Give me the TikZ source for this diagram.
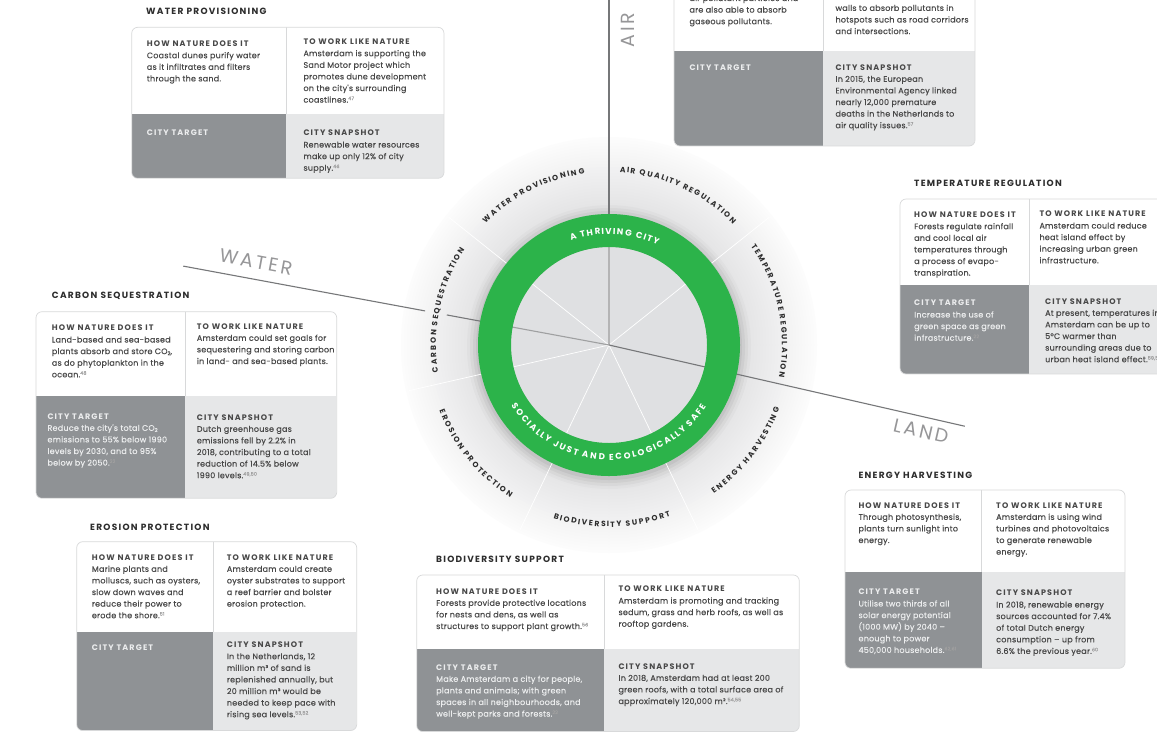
\documentclass[tikz,border=0pt]{standalone}
\usepackage{fontspec}
\setmainfont{Poppins}
\newfontfamily\bodyfont[LetterSpace=3, FakeBold=0.35]{Poppins}
\newfontfamily\capsfont[LetterSpace=14]{Poppins}
\usetikzlibrary{decorations.text}

\definecolor{thrivegreen}{RGB}{44,179,74}
\definecolor{targetgray}{RGB}{143,146,149}
\definecolor{snapgray}{RGB}{230,231,232}
\definecolor{cardedge}{RGB}{216,217,218}
\definecolor{titleink}{RGB}{45,45,45}
\definecolor{bodyink}{RGB}{72,72,72}
\definecolor{targetink}{RGB}{236,237,238}
\definecolor{noteink}{RGB}{160,160,160}
\definecolor{realmink}{RGB}{150,150,152}
\definecolor{diskgray}{RGB}{223,224,226}
\definecolor{halonear}{RGB}{226,226,227}
\definecolor{halofar}{RGB}{252,252,252}
\definecolor{axisgray}{RGB}{118,119,121}

\newcommand\hd[1]{{\capsfont\bfseries #1}}
\newcommand\fn[1]{\raisebox{2.6pt}{\fontsize{4.8}{4}\selectfont\color{noteink}#1}}
\newcommand\cotwo{CO\raisebox{-1pt}{\fontsize{5}{4}\selectfont 2}}

% card: left, top, divider, split, right, bottom (page pixels, y downwards)
\newcommand\cardframe[6]{%
  \begin{scope}
    \clip[rounded corners=6pt] (#1,{-(#2)}) rectangle (#5,{-(#6)});
    \fill[white] (#1,{-(#2)}) rectangle (#5,{-(#4)});
    \fill[targetgray] (#1,{-(#4)}) rectangle (#3,{-(#6)});
    \fill[snapgray] (#3,{-(#4)}) rectangle (#5,{-(#6)});
    \draw[cardedge, line width=0.8pt] (#3,{-(#2)}) -- (#3,{-(#4)});
  \end{scope}
  \draw[cardedge, line width=0.7pt, rounded corners=6pt] (#1,{-(#2)}) rectangle (#5,{-(#6)});
}

% label on an arc round the hub: text, start angle, end angle, radius
\newcommand\servicearc[4]{%
  \path[service, decoration={text effects along path, text={#1},
    text effects/.cd, text along path, fit text to path}]
    (hub) ++(#2:#4) arc[start angle=#2, end angle=#3, radius=#4];
}

\begin{document}
\begin{tikzpicture}[x=1pt,y=1pt]
  \tikzstyle{cell} = [anchor=north west, inner sep=0pt, align=left, text=bodyink, font=\bodyfont\fontsize{8}{11.6}\selectfont]
  \tikzstyle{darkcell} = [cell, text=targetink]
  \tikzstyle{cardtitle} = [anchor=north west, inner sep=0pt, text=titleink, font=\capsfont\bfseries\fontsize{9}{10}\selectfont]
  \tikzstyle{realm} = [inner sep=0pt, text=realmink, font=\capsfont\fontsize{19}{20}\selectfont]
  \tikzstyle{spoke} = [white, line width=0.7pt]
  \tikzstyle{axis} = [axisgray, line width=1.1pt]
  \tikzstyle{service} = [decorate, font=\bfseries\fontsize{7.6}{9}\selectfont, text=titleink]
  \tikzstyle{ringword} = [decorate, font=\bfseries\fontsize{8.6}{9}\selectfont, text=white]

  \useasboundingbox (0,0) rectangle (1157,-732);
  \fill[white] (0,0) rectangle (1157,-732);

  \coordinate (hub) at (609,-345);
  \coordinate (airend) at (609,0);
  \path (hub) +(169.5:433) coordinate (waterend)
              +(169.5:187) coordinate (watergapout)
              +(169.5:165) coordinate (watergapin)
              +(169.5:98) coordinate (waterrim)
              +(-12.86:365) coordinate (landend)
              +(-12.86:98) coordinate (landrim)
              +(90:98) coordinate (airrim);

  % disc, spokes and realms
  \foreach \k in {0,...,24}{
    \pgfmathtruncatemacro\p{4*\k}
    \fill[halonear!\p!halofar] (hub) circle[radius={208-3*\k}];
  }
  \foreach \r/\o in {142/0.02,139/0.03,136/0.04,133/0.05}
    \fill[black, opacity=\o] (hub) ++(0,-2) circle[radius=\r];
  \fill[diskgray] (hub) circle[radius=98];
  \foreach \a in {38.57,-64.29,-115.71,-167.14,141.43}
    \draw[spoke] (hub) -- +(\a:205);

  \draw[axis] (airend) -- (airrim);
  \draw[axis, axisgray!55] (airrim) -- (hub);
  \draw[axis] (waterend) -- (watergapout);
  \draw[axis] (watergapin) -- (waterrim);
  \draw[axis, axisgray!70] (waterrim) -- (hub);
  \draw[axis] (hub) -- (landend);

  \fill[thrivegreen, even odd rule] (hub) circle[radius=131] (hub) circle[radius=98];

  \path[ringword, decoration={text effects along path, text={A THRIVING CITY},
    text effects/.cd, text along path, fit text to path}]
    (hub) ++(110:111) arc[start angle=110, end angle=64, radius=111];
  \path[ringword, decoration={text effects along path, text={SOCIALLY JUST AND ECOLOGICALLY SAFE},
    text effects/.cd, text along path, fit text to path}]
    (hub) ++(-148.2:115) arc[start angle=-148.2, end angle=-32.4, radius=115];

  \servicearc{WATER PROVISIONING}{135.5}{98}{173}
  \servicearc{AIR QUALITY REGULATION}{86.4}{44.2}{173}
  \servicearc{TEMPERATURE REGULATION}{34.9}{-10.8}{173}
  \servicearc{CARBON SEQUESTRATION}{189.1}{146.5}{173}
  \servicearc{ENERGY HARVESTING}{-54.8}{-20.4}{182}
  \servicearc{BIODIVERSITY SUPPORT}{-107.8}{-70.2}{182}
  \servicearc{EROSION PROTECTION}{-158.8}{-122.8}{182}

  \node[realm, rotate=90] (airword) at (628,-30) {AIR};
  \node[realm, rotate=-10.5] (waterword) at (256,-262) {WATER};
  \node[realm, rotate=-12.86] (landword) at (921,-431) {LAND};

  % water provisioning
  \cardframe{131.7}{27.3}{286}{114.3}{444}{178.3}
  \node[cardtitle] (wtitle) at (146,-8.3) {WATER PROVISIONING};
  \node[cell] (whow) at (146.7,-40.7) {\hd{HOW NATURE DOES IT}\\Coastal dunes purify water\\as it infiltrates and filters\\through the sand.};
  \node[cell] (wwork) at (303.3,-38.7) {\hd{TO WORK LIKE NATURE}\\Amsterdam is supporting the\\Sand Motor project which\\promotes dune development\\on the city's surrounding\\coastlines.\fn{47}};
  \node[darkcell] (wtarget) at (146.7,-129.3) {\hd{CITY TARGET}};
  \node[cell] (wsnap) at (303.3,-130) {\hd{CITY SNAPSHOT}\\Renewable water resources\\make up only 12\% of city\\supply.\fn{46}};

  % air quality regulation
  \cardframe{674}{-100}{823.3}{51}{975}{146}
  \node[cell] (ahow) at (689.3,5.3) {air pollutant particles and\\are also able to absorb\\gaseous pollutants.};
  \node[cell] (awork) at (835.3,-4.6) {walls to absorb pollutants in\\hotspots such as road corridors\\and intersections.};
  \node[darkcell] (atarget) at (689.3,-65) {\hd{CITY TARGET}};
  \node[cell] (asnap) at (835.3,-64.3) {\hd{CITY SNAPSHOT}\\In 2015, the European\\Environmental Agency linked\\nearly 12,000 premature\\deaths in the Netherlands to\\air quality issues.\fn{57}};

  % temperature regulation
  \cardframe{900}{199}{1029.3}{285}{1200}{374}
  \node[cardtitle] (ttitle) at (914,-180) {TEMPERATURE REGULATION};
  \node[cell] (thow) at (914,-211.7) {\hd{HOW NATURE DOES IT}\\Forests regulate rainfall\\and cool local air\\temperatures through\\a process of evapo-\\transpiration.};
  \node[cell] (twork) at (1039.3,-211) {\hd{TO WORK LIKE NATURE}\\Amsterdam could reduce\\heat island effect by\\increasing urban green\\infrastructure.};
  \node[darkcell] (ttarget) at (914,-300) {\hd{CITY TARGET}\\Increase the use of\\green space as green\\infrastructure.\fn{22}};
  \node[cell] (tsnap) at (1045,-298.3) {\hd{CITY SNAPSHOT}\\At present, temperatures in\\Amsterdam can be up to\\5°C warmer than\\surrounding areas due to\\urban heat island effect.\fn{59,58}};

  % carbon sequestration
  \cardframe{36}{311.7}{185}{395.7}{336.7}{498.3}
  \node[cardtitle] (ctitle) at (51.7,-292.3) {CARBON SEQUESTRATION};
  \node[cell] (chow) at (51.7,-325) {\hd{HOW NATURE DOES IT}\\Land-based and sea-based\\plants absorb and store \cotwo,\\as do phytoplankton in the\\ocean.\fn{48}};
  \node[cell] (cwork) at (196.7,-323.3) {\hd{TO WORK LIKE NATURE}\\Amsterdam could set goals for\\sequestering and storing carbon\\in land- and sea-based plants.};
  \node[darkcell] (ctarget) at (47.3,-413.3) {\hd{CITY TARGET}\\Reduce the city's total \cotwo\\emissions to 55\% below 1990\\levels by 2030, and to 95\%\\below by 2050.\fn{22}};
  \node[cell] (csnap) at (196.7,-414.3) {\hd{CITY SNAPSHOT}\\Dutch greenhouse gas\\emissions fell by 2.2\% in\\2018, contributing to a total\\reduction of 14.5\% below\\1990 levels.\fn{49,50}};

  % erosion protection
  \cardframe{76.7}{541.7}{213.3}{632.3}{356.7}{730.5}
  \node[cardtitle] (etitle) at (90,-524.3) {EROSION PROTECTION};
  \node[cell] (ehow) at (91.7,-554.3) {\hd{HOW NATURE DOES IT}\\Marine plants and\\molluscs, such as oysters,\\slow down waves and\\reduce their power to\\erode the shore.\fn{51}};
  \node[cell] (ework) at (226.7,-554.3) {\hd{TO WORK LIKE NATURE}\\Amsterdam could create\\oyster substrates to support\\a reef barrier and bolster\\erosion protection.};
  \node[darkcell] (etarget) at (91.7,-644.3) {\hd{CITY TARGET}};
  \node[cell] (esnap) at (226.7,-641.7) {\hd{CITY SNAPSHOT}\\In the Netherlands, 12\\million m³ of sand is\\replenished annually, but\\20 million m³ would be\\needed to keep pace with\\rising sea levels.\fn{53,52}};

  % biodiversity support
  \cardframe{416.7}{575}{604}{649}{799.3}{731.5}
  \node[cardtitle] (btitle) at (436,-556) {BIODIVERSITY SUPPORT};
  \node[cell] (bhow) at (436,-588.3) {\hd{HOW NATURE DOES IT}\\Forests provide protective locations\\for nests and dens, as well as\\structures to support plant growth.\fn{56}};
  \node[cell] (bwork) at (618.3,-586) {\hd{TO WORK LIKE NATURE}\\Amsterdam is promoting and tracking\\sedum, grass and herb roofs, as well as\\rooftop gardens.};
  \node[darkcell] (btarget) at (436,-664.3) {\hd{CITY TARGET}\\Make Amsterdam a city for people,\\plants and animals; with green\\spaces in all neighbourhoods, and\\well-kept parks and forests.\fn{22}};
  \node[cell] (bsnap) at (618.3,-663.3) {\hd{CITY SNAPSHOT}\\In 2018, Amsterdam had at least 200\\green roofs, with a total surface area of\\approximately 120,000 m².\fn{54,55}};

  % energy harvesting
  \cardframe{845}{490}{981.7}{571.7}{1125}{668.3}
  \node[cardtitle] (ntitle) at (858.3,-472.3) {ENERGY HARVESTING};
  \node[cell] (nhow) at (858.3,-502.3) {\hd{HOW NATURE DOES IT}\\Through photosynthesis,\\plants turn sunlight into\\energy.};
  \node[cell] (nwork) at (996,-502.3) {\hd{TO WORK LIKE NATURE}\\Amsterdam is using wind\\turbines and photovoltaics\\to generate renewable\\energy.};
  \node[darkcell] (ntarget) at (858.3,-589) {\hd{CITY TARGET}\\Utilise two thirds of all\\solar energy potential\\(1000 MW) by 2040 –\\enough to power\\450,000 households.\fn{62,61}};
  \node[cell] (nsnap) at (996,-590) {\hd{CITY SNAPSHOT}\\In 2018, renewable energy\\sources accounted for 7.4\%\\of total Dutch energy\\consumption – up from\\6.6\% the previous year.\fn{60}};
\end{tikzpicture}
\end{document}
